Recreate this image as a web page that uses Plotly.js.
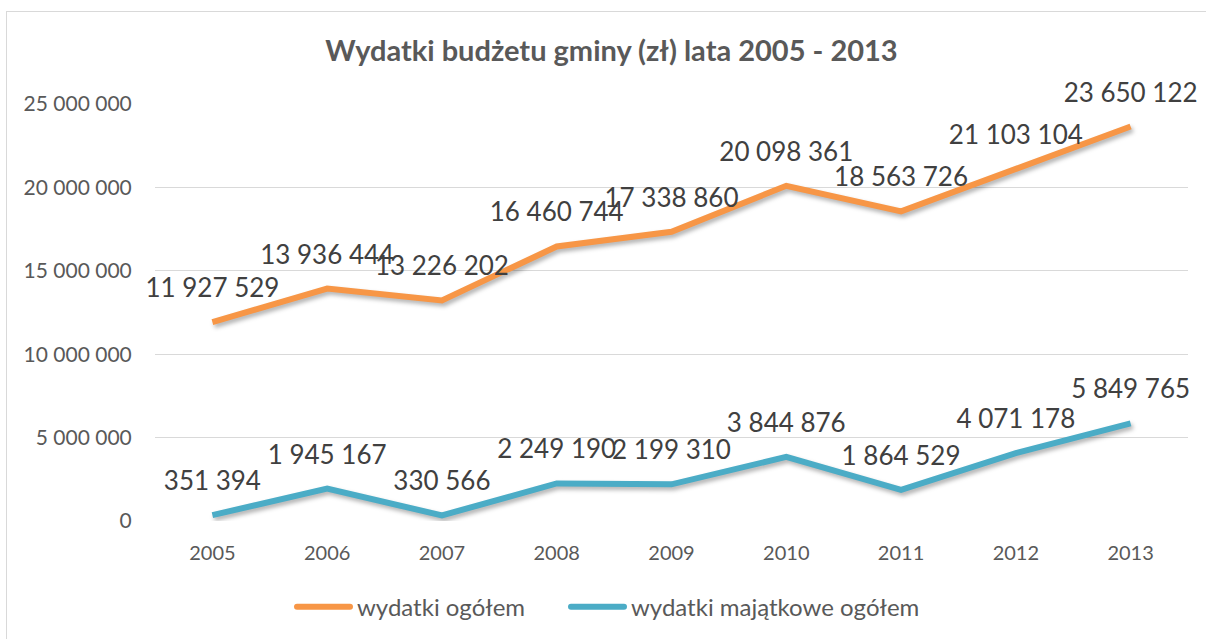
<!DOCTYPE html>
<html>
<head>
<meta charset="utf-8">
<script src="https://cdn.plot.ly/plotly-3.0.1.min.js"></script>
<style>
  html, body { margin: 0; padding: 0; background: #ffffff; }
  #wrap { position: relative; width: 1206px; height: 639px; }
  #chart { width: 1206px; height: 639px; }
  #frame { position: absolute; left: 6px; top: 11px; right: -2px; bottom: -2px;
           border-top: 1px solid #D9D9D9; border-left: 1px solid #D9D9D9; pointer-events: none; }
  .scatterlayer .js-line { filter: drop-shadow(2px 3px 2px rgba(0,0,0,0.30)); }
  .legend .scrollbox { clip-path: none !important; }
  .legend .legendlines path { stroke-width: 6px !important; stroke-linecap: round; }
</style>
</head>
<body>
<div id="wrap">
  <div id="chart"></div>
  <div id="frame"></div>
</div>
<script>
const years = ['2005', '2006', '2007', '2008', '2009', '2010', '2011', '2012', '2013'];
const wydatkiOgolem = [11927529, 13936444, 13226202, 16460744, 17338860, 20098361, 18563726, 21103104, 23650122];
const wydatkiMajatkowe = [351394, 1945167, 330566, 2249190, 2199310, 3844876, 1864529, 4071178, 5849765];
const seriesNames = ['wydatki ogółem', 'wydatki majątkowe ogółem'];
const yTicks = [0, 5000000, 10000000, 15000000, 20000000, 25000000];

const labelFont = { family: 'Lato, sans-serif', size: 26, color: '#404040' };

function series(name, values, color) {
  return {
    type: 'scatter',
    mode: 'lines+markers+text',
    name: name,
    x: years,
    y: values,
    line: { color: color, width: 6, shape: 'linear' },
    marker: { size: 28, color: 'rgba(0,0,0,0)', line: { width: 0 } },
    text: values,
    texttemplate: '%{y:,d}',
    textposition: 'top center',
    textfont: labelFont,
    hoverinfo: 'x+y',
    cliponaxis: false
  };
}

const data = [
  series(seriesNames[0], wydatkiOgolem, '#F79646'),
  series(seriesNames[1], wydatkiMajatkowe, '#4BACC6')
];

const layout = {
  width: 1206,
  height: 639,
  separators: ', ',
  paper_bgcolor: '#ffffff',
  plot_bgcolor: '#ffffff',
  margin: { l: 155, r: 18, t: 104.3, b: 118 },
  font: { family: 'Lato, sans-serif', color: '#595959' },
  title: {
    text: '<b>Wydatki budżetu gminy (zł) lata 2005 - 2013</b>',
    font: { family: 'Lato, sans-serif', size: 29, color: '#595959' },
    x: 0.507, xref: 'container', xanchor: 'center',
    y: 0.920, yref: 'container', yanchor: 'middle'
  },
  xaxis: {
    type: 'category',
    range: [-0.5, 8.5],
    showgrid: false,
    zeroline: false,
    showline: false,
    ticks: 'outside',
    ticklen: 14,
    tickcolor: 'rgba(0,0,0,0)',
    tickfont: { family: 'Lato, sans-serif', size: 20, color: '#595959' }
  },
  yaxis: {
    range: [0, 25000000],
    tickvals: yTicks,
    tickformat: ',d',
    showgrid: true,
    gridcolor: '#D9D9D9',
    gridwidth: 1,
    zeroline: false,
    showline: false,
    ticks: 'outside',
    ticklen: 18,
    tickcolor: 'rgba(0,0,0,0)',
    tickfont: { family: 'Lato, sans-serif', size: 21, color: '#595959' }
  },
  showlegend: true,
  legend: {
    orientation: 'h',
    x: 317 / 1206, xref: 'container', xanchor: 'left',
    y: 0.05, yref: 'container', yanchor: 'middle',
    font: { family: 'Lato, sans-serif', size: 24, color: '#595959' },
    entrywidth: 229,
    traceorder: 'normal'
  },
  hovermode: 'closest'
};

function styleLegend() {
  document.querySelectorAll('#chart .legend .legendlines path').forEach(function (p) {
    p.setAttribute('d', 'M-20,0h53');
  });
}

Plotly.newPlot('chart', data, layout, { displayModeBar: false, responsive: false }).then(function (gd) {
  styleLegend();
  gd.on('plotly_afterplot', styleLegend);
});
</script>
</body>
</html>
